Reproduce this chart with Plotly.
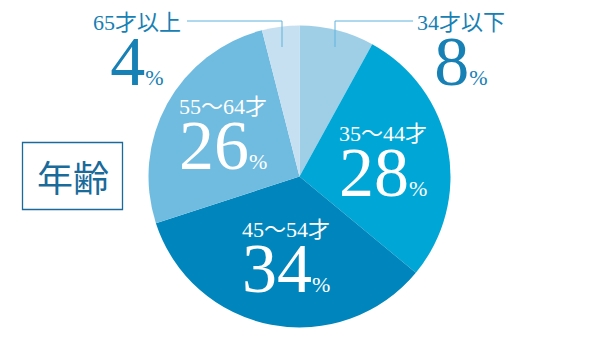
import plotly.graph_objects as go

categories = ["34才以下", "35〜44才", "45〜54才", "55〜64才", "65才以上"]
values = [8, 28, 34, 26, 4]
colors = ["#9fcfe7", "#00a6d6", "#0086bc", "#70bbe0", "#c6e0f1"]
title_text = "年齢"

W, H = 600, 346
def X(px):
    return px / W
def Y(py):
    return 1 - py / H

cx, cy, r = 299.5, 176.5, 151

fig = go.Figure(go.Pie(
    labels=categories, values=values, sort=False, direction="clockwise", rotation=0,
    marker=dict(colors=colors, line=dict(width=0)),
    textinfo="none", hoverinfo="skip", showlegend=False,
    domain=dict(x=[X(cx - r), X(cx + r)], y=[Y(cy + r), Y(cy - r)]),
))

SERIF = "Liberation Serif, Noto Sans CJK JP, serif"
OUT = "#1780b4"
WHITE = "#ffffff"

def label_html(name, num):
    return (f"<span style='font-size:22px'>{name}</span><br>"
            f"<span style='font-size:70px'>{num}</span>"
            f"<span style='font-size:22px'>%</span>")

# label placement (pixel): (x, y_mid, xanchor/align, color)
label_pos = [
    (461, 55, "center", OUT),
    (337, 166, "left", WHITE),
    (240, 262, "left", WHITE),
    (177, 139, "left", WHITE),
    (137, 55, "center", OUT),
]

anns = []
for cat, val, (lx, ly, anc, col) in zip(categories, values, label_pos):
    anns.append(dict(x=X(lx), y=Y(ly), xref="paper", yref="paper",
                     text=label_html(cat, val), align=anc,
                     showarrow=False, xanchor=anc, yanchor="middle",
                     font=dict(family=SERIF, size=42, color=col)))

anns.append(dict(x=X(72.5), y=Y(176), xref="paper", yref="paper", text=title_text,
                 showarrow=False, xanchor="center", yanchor="middle",
                 font=dict(family="Noto Sans CJK JP", size=36, color="#1a6a9a")))

LINE = "#5fb3dc"
shapes = [
    dict(type="rect", xref="paper", yref="paper", x0=X(22.5), x1=X(122.5), y0=Y(142.5), y1=Y(209.5),
         line=dict(color="#1a6a9a", width=1.3)),
    dict(type="path", xref="paper", yref="paper",
         path=f"M {X(187)},{Y(21)} L {X(282)},{Y(21)} L {X(282)},{Y(47)}",
         line=dict(color=LINE, width=1)),
    dict(type="path", xref="paper", yref="paper",
         path=f"M {X(413)},{Y(21)} L {X(335)},{Y(21)} L {X(335)},{Y(47)}",
         line=dict(color=LINE, width=1)),
]

fig.update_layout(
    width=W, height=H, margin=dict(l=0, r=0, t=0, b=0),
    paper_bgcolor="white", plot_bgcolor="white",
    annotations=anns, shapes=shapes,
)

fig.write_html("out.html")
